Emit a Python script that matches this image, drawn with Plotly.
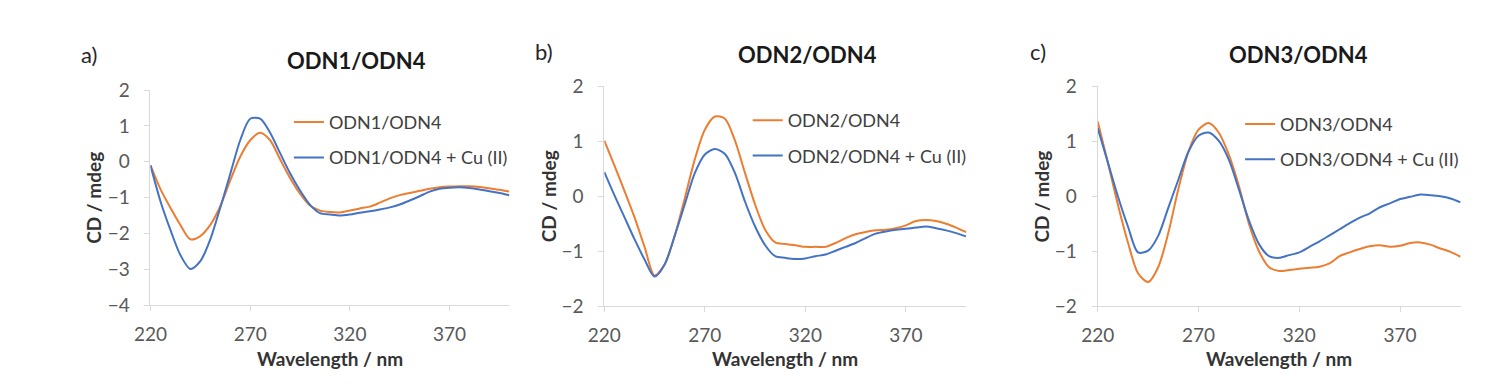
import plotly.graph_objects as go

wavelength = [220, 225, 230, 235, 240, 245, 250, 255, 260, 265, 270, 275, 280, 285, 290,
              295, 300, 305, 310, 315, 320, 325, 330, 335, 340, 345, 350, 355, 360, 365,
              370, 375, 380, 385, 390, 395, 400]

odn1_odn4 = [-0.10, -0.76, -1.28, -1.76, -2.16, -2.07, -1.76, -1.24, -0.52, 0.14, 0.60, 0.81,
             0.60, 0.07, -0.45, -0.89, -1.22, -1.36, -1.40, -1.41, -1.36, -1.30, -1.25, -1.14,
             -1.02, -0.93, -0.87, -0.81, -0.75, -0.71, -0.69, -0.68, -0.68, -0.70, -0.74,
             -0.78, -0.83]
odn1_odn4_cu = [-0.10, -1.10, -1.90, -2.60, -2.99, -2.77, -2.16, -1.28, -0.34, 0.60, 1.20,
                1.20, 0.81, 0.24, -0.32, -0.80, -1.20, -1.43, -1.47, -1.50, -1.47, -1.42,
                -1.38, -1.33, -1.27, -1.19, -1.08, -0.96, -0.83, -0.75, -0.72, -0.71, -0.73,
                -0.77, -0.82, -0.87, -0.93]

odn2_odn4 = [1.01, 0.56, 0.10, -0.38, -0.92, -1.44, -1.24, -0.72, -0.04, 0.67, 1.21, 1.45,
             1.41, 1.01, 0.42, -0.15, -0.61, -0.84, -0.87, -0.89, -0.92, -0.92, -0.92, -0.85,
             -0.76, -0.69, -0.65, -0.62, -0.61, -0.58, -0.53, -0.45, -0.43, -0.45, -0.50,
             -0.57, -0.65]
odn2_odn4_cu = [0.44, 0.02, -0.38, -0.78, -1.15, -1.46, -1.24, -0.72, -0.15, 0.42, 0.76, 0.86,
                0.77, 0.42, -0.10, -0.55, -0.89, -1.09, -1.12, -1.14, -1.13, -1.09, -1.06,
                -0.99, -0.92, -0.85, -0.76, -0.68, -0.64, -0.61, -0.59, -0.57, -0.55, -0.58,
                -0.62, -0.67, -0.73]

odn3_odn4 = [1.36, 0.62, -0.15, -0.84, -1.40, -1.56, -1.29, -0.67, 0.13, 0.81, 1.21, 1.33,
             1.16, 0.76, 0.19, -0.50, -1.00, -1.29, -1.36, -1.34, -1.32, -1.30, -1.28, -1.22,
             -1.09, -1.02, -0.96, -0.91, -0.89, -0.92, -0.90, -0.85, -0.84, -0.88, -0.95,
             -1.01, -1.10]
odn3_odn4_cu = [1.24, 0.62, 0.00, -0.55, -1.02, -0.99, -0.72, -0.21, 0.30, 0.81, 1.10, 1.16,
                1.01, 0.67, 0.13, -0.44, -0.87, -1.09, -1.12, -1.07, -1.02, -0.92, -0.82,
                -0.71, -0.60, -0.49, -0.39, -0.31, -0.20, -0.13, -0.05, -0.01, 0.03, 0.02,
                0.00, -0.04, -0.11]

panel_letters = ["a)", "b)", "c)"]
panel_titles = ["ODN1/ODN4", "ODN2/ODN4", "ODN3/ODN4"]
series_names = [("ODN1/ODN4", "ODN1/ODN4 + Cu (II)"),
                ("ODN2/ODN4", "ODN2/ODN4 + Cu (II)"),
                ("ODN3/ODN4", "ODN3/ODN4 + Cu (II)")]
series_values = [(odn1_odn4, odn1_odn4_cu), (odn2_odn4, odn2_odn4_cu), (odn3_odn4, odn3_odn4_cu)]
x_ticks = [220, 270, 320, 370]
y_ranges = [(-4, 2), (-2, 2), (-2, 2)]

ORANGE = "#ED7D31"
BLUE = "#4472C4"
FONT = "Lato"
W, H = 1511, 384

# layout geometry (pixels)
x_dom_px = [(135, 498), (594, 960), (1093, 1460)]
y_dom_px = [(83, 312), (79, 313), (79, 313)]
letter_pos = [(63, 45), (522, 42), (1022, 42)]
title_pos = [(343, 52), (800, 45), (1296, 45)]
legend_pos = [(275, 136), (739, 134), (1237, 138)]

fig = go.Figure()
layout = dict(width=W, height=H, margin=dict(l=0, r=0, t=0, b=0),
              paper_bgcolor="white", plot_bgcolor="white", showlegend=True,
              font=dict(family=FONT, color="#595959"))
annotations = []

for i in range(3):
    xa = "x" if i == 0 else f"x{i+1}"
    ya = "y" if i == 0 else f"y{i+1}"
    leg = "legend" if i == 0 else f"legend{i+1}"
    for k, (vals, name, col) in enumerate(zip(series_values[i], series_names[i], [ORANGE, BLUE])):
        fig.add_trace(go.Scatter(x=wavelength, y=vals, mode="lines", name=name,
                                 legendgroup=f"g{i}{k}",
                                 line=dict(color=col, width=2, shape="spline", smoothing=0.8),
                                 xaxis=xa, yaxis=ya, legend=leg))
    x0, x1 = x_dom_px[i]
    yt, yb = y_dom_px[i]
    axis_common = dict(showline=True, linecolor="#d9d9d9", linewidth=1, ticks="outside",
                       ticklen=5, tickcolor="#d9d9d9", showgrid=False, zeroline=False,
                       tickfont=dict(family=FONT, size=19, color="#595959"))
    layout["xaxis" if i == 0 else f"xaxis{i+1}"] = dict(
        domain=[x0 / W, x1 / W], range=[220, 400], tickvals=x_ticks,
        anchor=ya, ticklabelstandoff=7, **axis_common)
    layout["yaxis" if i == 0 else f"yaxis{i+1}"] = dict(
        domain=[1 - yb / H, 1 - yt / H], range=list(y_ranges[i]), dtick=1,
        anchor=xa, ticklabelstandoff=11, **axis_common)
    lx, ly = legend_pos[i]
    layout[leg] = dict(x=lx / W, y=1 - ly / H, xanchor="left", yanchor="middle",
                       bgcolor="rgba(0,0,0,0)", itemwidth=30, tracegroupgap=9,
                       traceorder="grouped",
                       font=dict(family=FONT, size=18, color="#404040"))
    # panel letter & title
    px, py = letter_pos[i]
    annotations.append(dict(text=panel_letters[i], x=px / W, y=1 - py / H, xref="paper",
                            yref="paper", xanchor="left", yanchor="middle", showarrow=False,
                            font=dict(family=FONT, size=22, color="#262626")))
    tx, ty = title_pos[i]
    annotations.append(dict(text="<b>" + panel_titles[i] + "</b>", x=tx / W, y=1 - ty / H,
                            xref="paper", yref="paper", xanchor="center", yanchor="middle",
                            showarrow=False, font=dict(family=FONT, size=22, color="#1a1a1a")))
    # axis titles
    annotations.append(dict(text="<b>Wavelength / nm</b>", x=(x0 + x1) / 2 / W, y=1 - 369 / H,
                            xref="paper", yref="paper", xanchor="center", yanchor="middle",
                            showarrow=False, font=dict(family=FONT, size=19, color="#333333")))
    annotations.append(dict(text="<b>CD / mdeg</b>", x=(x0 - 57) / W, y=1 - (yt + yb) / 2 / H,
                            xref="paper", yref="paper", xanchor="center", yanchor="middle",
                            textangle=-90, showarrow=False,
                            font=dict(family=FONT, size=19, color="#333333")))

layout["annotations"] = annotations
fig.update_layout(**layout)
fig.write_html("out.html")
